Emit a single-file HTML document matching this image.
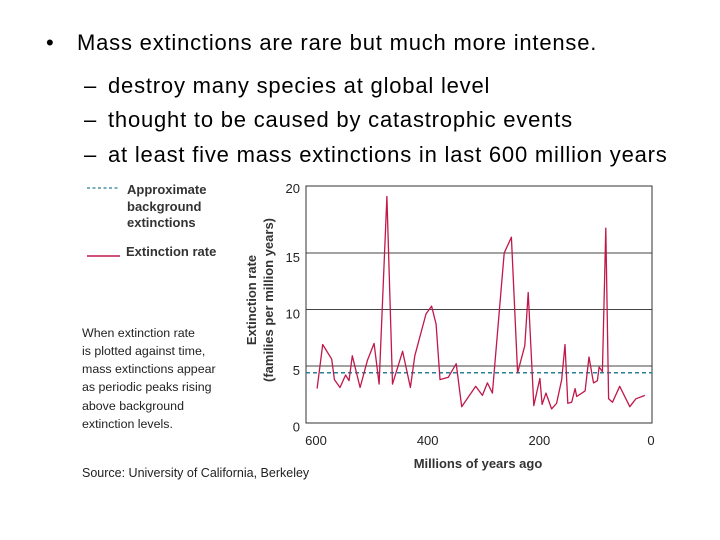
<!DOCTYPE html>
<html><head><meta charset="utf-8"><style>
html,body{margin:0;padding:0;background:#fff;}
body{width:720px;height:540px;position:relative;overflow:hidden;font-family:"Liberation Sans",sans-serif;}
.t{position:absolute;font-size:22px;line-height:28px;color:#000;white-space:nowrap;letter-spacing:0.8px;}
</style></head><body>
<div class="t" style="left:46px;top:29px;">•</div>
<div class="t" style="left:77px;top:29px;">Mass extinctions are rare but much more intense.</div>
<div class="t" style="left:84px;top:72px;">–</div>
<div class="t" style="left:108px;top:72px;">destroy many species at global level</div>
<div class="t" style="left:84px;top:106px;">–</div>
<div class="t" style="left:108px;top:106px;">thought to be caused by catastrophic events</div>
<div class="t" style="left:84px;top:141px;">–</div>
<div class="t" style="left:108px;top:141px;">at least five mass extinctions in last 600 million years</div>
<svg id="chart" width="720" height="540" style="position:absolute;left:0;top:0;" xmlns="http://www.w3.org/2000/svg" font-family="Liberation Sans, sans-serif">
<g>
<line x1="87" y1="188" x2="120" y2="188" stroke="#2a7f9a" stroke-width="1.3" stroke-dasharray="3,2.5"/>
<text x="127" y="194" font-size="13" font-weight="bold" fill="#333">Approximate</text>
<text x="127" y="211" font-size="13" font-weight="bold" fill="#333">background</text>
<text x="127" y="227" font-size="13" font-weight="bold" fill="#333">extinctions</text>
<line x1="87" y1="256" x2="120" y2="256" stroke="#c0184a" stroke-width="1.5"/>
<text x="126" y="256" font-size="13" font-weight="bold" fill="#333">Extinction rate</text>
</g>
<g font-size="12.4" fill="#222">
<text x="82" y="337">When extinction rate</text>
<text x="82" y="355">is plotted against time,</text>
<text x="82" y="373">mass extinctions appear</text>
<text x="82" y="391">as periodic peaks rising</text>
<text x="82" y="410">above background</text>
<text x="82" y="428">extinction levels.</text>
</g>
<text x="82" y="477" font-size="12.5" fill="#222">Source: University of California, Berkeley</text>
<text transform="translate(256,300) rotate(-90)" text-anchor="middle" font-size="13" font-weight="bold" fill="#333"><tspan x="0" y="0">Extinction rate</tspan><tspan x="0" y="17">(families per million years)</tspan></text>
<text x="478" y="468" text-anchor="middle" font-size="13" font-weight="bold" fill="#333">Millions of years ago</text>
<g id="grid"></g>
<rect x="306" y="186" width="346" height="237" fill="none" stroke="#333" stroke-width="1"/>
<g id="ticks"></g>
<g id="series"></g>
</svg>
<script>
const ages = [598,588,572,567,557,547,541,535,521,508,496,487,473,463,445,431,423,403,393,385,378,363,349,339,314,302,293,284,263,250,239,226,220,210,199,195,188,178,169,160,154,149,142,136,133,118,111,103,96,93,87,81,76,69,56,38,27,11];
const rates = [3.0,6.9,5.6,3.8,3.1,4.2,3.7,5.9,3.1,5.5,7.0,3.4,20.0,3.4,6.3,3.1,5.9,9.6,10.3,8.7,3.8,4.0,5.2,1.4,3.2,2.4,3.5,2.6,15.0,16.4,4.4,6.8,11.5,1.5,3.9,1.6,2.6,1.2,1.7,3.8,6.9,1.7,1.8,3.0,2.3,2.8,5.8,3.5,3.7,4.9,4.5,17.2,2.1,1.8,3.2,1.4,2.1,2.4];
const background = [4.4];
const yTicks = [0,5,10,15,20];
const xTicks = [600,400,200,0];
const NS='http://www.w3.org/2000/svg';
function xs(a){return 651 - a*0.5583;}
function ys(v){return 422.5 - v*11.3;}
const grid=document.getElementById('grid'), ticks=document.getElementById('ticks'), series=document.getElementById('series');
yTicks.forEach(v=>{
  if(v>0&&v<20){
    const l=document.createElementNS(NS,'line');
    
    
    l.setAttribute('x1',306);l.setAttribute('x2',652);l.setAttribute('y1',ys(v));l.setAttribute('y2',ys(v));
    l.setAttribute('stroke','#444');l.setAttribute('stroke-width','1');
    grid.appendChild(l);
  }
  const t=document.createElementNS(NS,'text');
  
  
  t.setAttribute('x',300);t.setAttribute('y',v===20?193:ys(v)+9);
  t.setAttribute('text-anchor','end');t.setAttribute('font-size','13');t.setAttribute('fill','#222');
  t.textContent=v;ticks.appendChild(t);
});
xTicks.forEach(a=>{
  const t=document.createElementNS(NS,'text');
  
  
  t.setAttribute('x',xs(a));t.setAttribute('y',445);
  t.setAttribute('text-anchor','middle');t.setAttribute('font-size','13');t.setAttribute('fill','#222');
  t.textContent=a;ticks.appendChild(t);
});
const bl=document.createElementNS(NS,'line');


bl.setAttribute('x1',306);bl.setAttribute('x2',652);bl.setAttribute('y1',ys(background[0]));bl.setAttribute('y2',ys(background[0]));
bl.setAttribute('stroke','#2a7f9a');bl.setAttribute('stroke-width','1.5');bl.setAttribute('stroke-dasharray','4,3');
series.appendChild(bl);
const p=document.createElementNS(NS,'polyline');


p.setAttribute('points',ages.map((a,i)=>xs(a).toFixed(1)+','+ys(rates[i]).toFixed(1)).join(' '));
p.setAttribute('fill','none');p.setAttribute('stroke','#c0184a');p.setAttribute('stroke-width','1.3');p.setAttribute('stroke-linejoin','round');
series.appendChild(p);
</script>
</body></html>
